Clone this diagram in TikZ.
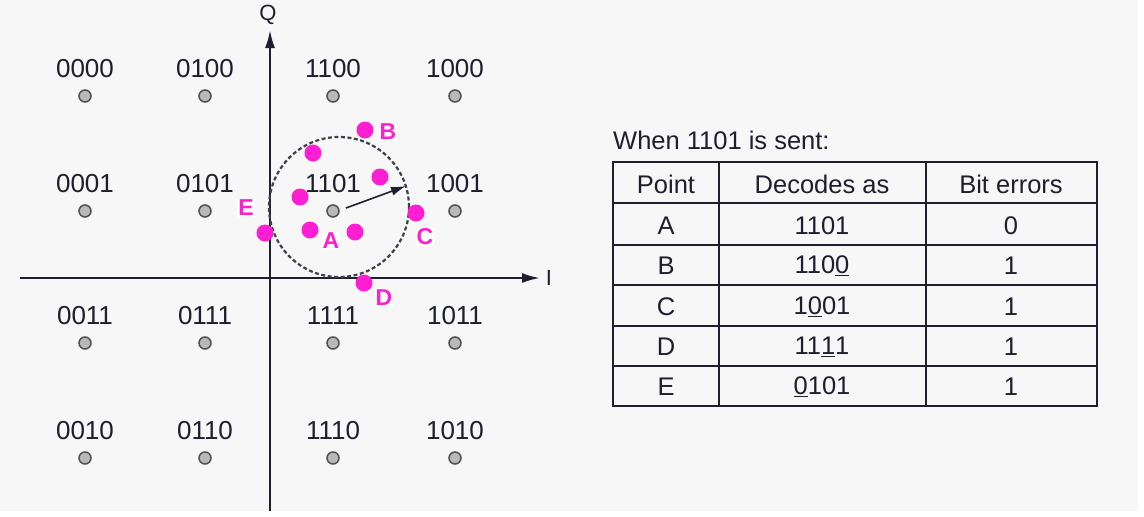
\documentclass[tikz,border=0pt]{standalone}
\usepackage{fontspec}
\setmainfont{Liberation Sans}
\usetikzlibrary{arrows.meta}
\definecolor{bg}{RGB}{247,247,247}
\definecolor{mag}{RGB}{255,30,210}
\definecolor{ink}{RGB}{30,30,45}
\definecolor{dotfill}{RGB}{185,185,185}
\definecolor{dotline}{RGB}{80,80,80}
\tikzset{
  lbl/.style={text=ink,font=\fontsize{26}{30}\selectfont,inner sep=0pt},
  gdot/.style={circle,fill=dotfill,draw=dotline,line width=1.5pt,minimum size=12pt,inner sep=0pt},
  mdot/.style={circle,fill=mag,minimum size=17pt,inner sep=0pt},
  mlbl/.style={text=mag,fill=white,font=\fontsize{23}{26}\selectfont\bfseries,inner sep=1pt},
  axis/.style={line width=2.2pt,draw=ink,-{Latex[length=18pt,width=10pt]}},
  cell/.style={text=ink,font=\fontsize{25.5}{30}\selectfont,inner sep=0pt},
  tline/.style={line width=2.4pt,draw=ink}
}
\newcommand{\ul}[1]{\underline{#1}}
\begin{document}
\begin{tikzpicture}[x=1pt,y=-1pt]
\useasboundingbox (0,0) rectangle (1144,517);
\fill[white] (0,0) rectangle (1144,517);
\fill[bg] (0,0) rectangle (1138,511);
% axes
\coordinate (ybot) at (270,511);
\coordinate (ytop) at (270,30);
\coordinate (xl) at (20,278);
\coordinate (xr) at (540,278);
\draw[axis] (ybot) -- (ytop);
\draw[axis] (xl) -- (xr);
\node[text=ink,font=\fontsize{22}{26}\selectfont,inner sep=0pt] (Q) at (268,15) {Q};
\node[text=ink,font=\fontsize{22}{26}\selectfont,inner sep=0pt] (I) at (549,278) {I};
% constellation
\foreach \lab/\x/\y in {0000/85/96,0100/205/96,1100/333/96,1000/455/96,
                        0001/85/211,0101/205/211,1101/333/211,1001/455/211,
                        0011/85/343,0111/205/343,1111/333/343,1011/455/343,
                        0010/85/458,0110/205/458,1110/333/458,1010/455/458}{
  \node[gdot] (p\lab) at (\x,\y) {};
  \node[lbl] (l\lab) at (\x,\y-27) {\lab};
}
% decision circle
\node[circle,draw=ink!85,dash pattern=on 4pt off 2.5pt,line width=2.2pt,minimum size=140pt,inner sep=0pt] (dc) at (339,207) {};
\coordinate (astart) at (346,208);
\coordinate (aend) at (406,186);
\draw[line width=1.6pt,draw=ink,-{Latex[length=15pt,width=9pt]}] (astart) -- (aend);
% received points
\node[mdot] (mB) at (365,130) {};
\node[mdot] (m2) at (313,153) {};
\node[mdot] (m3) at (380,177) {};
\node[mdot] (m4) at (300,197) {};
\node[mdot] (mA) at (310,230) {};
\node[mdot] (m6) at (355,232) {};
\node[mdot] (mC) at (416,213) {};
\node[mdot] (mE) at (265,233) {};
\node[mdot] (mD) at (364,283) {};
\node[mlbl] (tB) at (388,132) {B};
\node[mlbl] (tA) at (331,241) {A};
\node[mlbl] (tC) at (425,237) {C};
\node[mlbl] (tD) at (384,298) {D};
\node[mlbl] (tE) at (246,208) {E};
% table
\node[cell,anchor=west] (title) at (613,140) {When 1101 is sent:};
\draw[tline] (613,162) rectangle (1097,406);
\foreach \yy in {203,245,285,326,366}{\draw[tline] (613,\yy) -- (1097,\yy);}
\draw[tline] (719,162) -- (719,406);
\draw[tline] (926,162) -- (926,406);
\node[cell] (h1) at (666,184) {Point};
\node[cell] (h2) at (822,184) {Decodes as};
\node[cell] (h3) at (1011,184) {Bit errors};
\node[cell] (rA1) at (666,226) {A};
\node[cell] (rA2) at (822,226) {1101};
\node[cell] (rA3) at (1011,226) {0};
\node[cell] (rB1) at (666,266) {B};
\node[cell] (rB2) at (822,266) {110\ul{0}};
\node[cell] (rB3) at (1011,266) {1};
\node[cell] (rC1) at (666,307) {C};
\node[cell] (rC2) at (822,307) {1\ul{0}01};
\node[cell] (rC3) at (1011,307) {1};
\node[cell] (rD1) at (666,347) {D};
\node[cell] (rD2) at (822,347) {11\ul{1}1};
\node[cell] (rD3) at (1011,347) {1};
\node[cell] (rE1) at (666,387) {E};
\node[cell] (rE2) at (822,387) {\ul{0}101};
\node[cell] (rE3) at (1011,387) {1};
\end{tikzpicture}
\end{document}
